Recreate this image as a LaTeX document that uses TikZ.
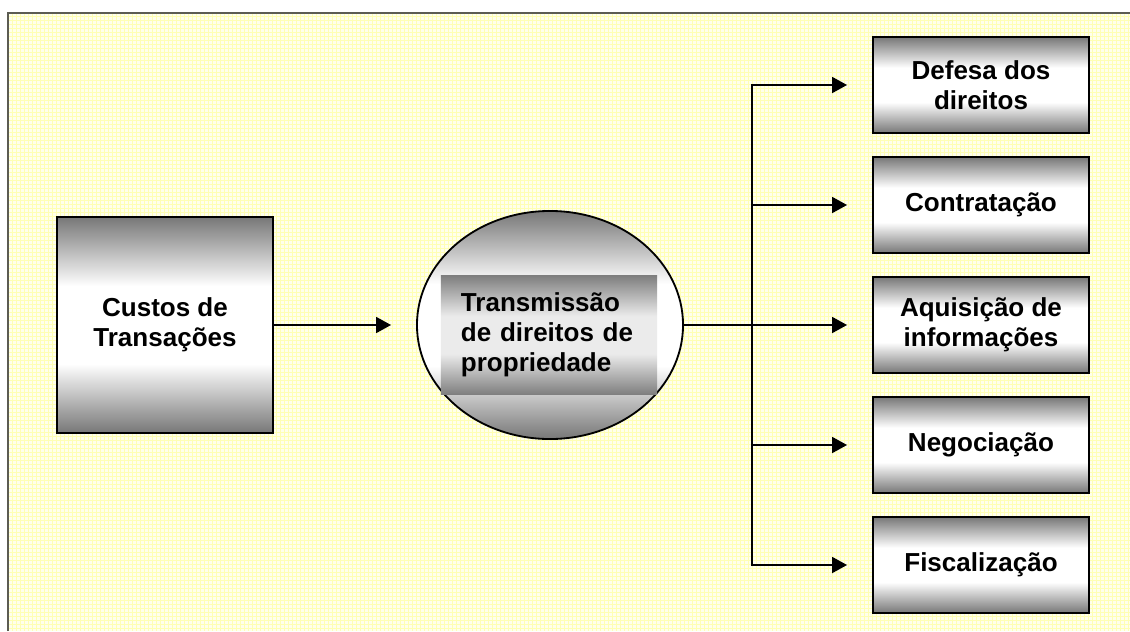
\documentclass[tikz,border=0pt]{standalone}
\usepackage{fontspec}
\setmainfont{Liberation Sans}
\usepackage{tikz}
\usetikzlibrary{arrows.meta,shapes.geometric}
\definecolor{paperfill}{HTML}{FFFFEC}
\definecolor{paperline}{HTML}{FFFFB4}
\definecolor{framegray}{HTML}{5C5C52}
\definecolor{shadegray}{HTML}{777777}
\definecolor{innergray}{HTML}{7E7E7E}
% grey edges, white band in the middle
\pgfdeclareverticalshading{boxshade}{100bp}{color(0bp)=(shadegray); color(25bp)=(shadegray);
  color(41bp)=(white); color(59bp)=(white); color(75bp)=(shadegray); color(100bp)=(shadegray)}
\pgfdeclareverticalshading{innershade}{100bp}{color(0bp)=(innergray); color(25bp)=(innergray);
  color(42bp)=(white!92!black); color(58bp)=(white!92!black); color(75bp)=(innergray); color(100bp)=(innergray)}

\begin{document}
\begin{tikzpicture}[x=0.025cm,y=-0.025cm,
  font=\bfseries\fontsize{18.5}{21.3}\selectfont,
  shadedbox/.style={draw=black,line width=1.3pt,shading=boxshade,align=center,inner sep=0pt},
  costbox/.style={shadedbox,minimum width=5.4cm,minimum height=5.4cm},
  stagebox/.style={shadedbox,minimum width=5.4cm,minimum height=2.4cm},
  roundnode/.style={ellipse,draw=black,line width=1.3pt,shading=boxshade,minimum width=6.65cm,minimum height=5.7cm,inner sep=0pt},
  innerbox/.style={shading=innershade,minimum width=5.4cm,minimum height=2.975cm,text width=4.4cm,align=left,inner xsep=0.5cm,inner ysep=0pt},
  connector/.style={-{Triangle[length=0.375cm,width=0.4cm]},draw=black,line width=1.3pt,shorten >=0.625cm}
]
\path[use as bounding box] (0,0) rectangle (1130,631);

% Paper background and frame
\fill[paperfill] (8,13) rectangle (1130,631);
\draw[paperline,line width=0.5pt,step=0.1cm] (8,13) grid (1130,631);
\draw[framegray,line width=1.4pt] (8,631) -- (8,13) -- (1130,13);

% Source and centre
\node[costbox] (custos) at (165,325) {Custos de\\Transações};
\node[roundnode] (transmissao) at (550,325) {};
\node[innerbox] (direitosprop) at (549,335) {Transmissão\\de direitos de\\propriedade};

% Cost components
\node[stagebox] (defesa) at (981,85) {Defesa dos\\direitos};
\node[stagebox] (contratacao) at (981,205) {Contratação};
\node[stagebox] (aquisicao) at (981,325) {Aquisição de\\informações};
\node[stagebox] (negociacao) at (981,445) {Negociação};
\node[stagebox] (fiscalizacao) at (981,565) {Fiscalização};

% Flow
\coordinate (split) at (752,325);
\draw[connector] (custos.east) -- (transmissao.west);
\draw[connector] (transmissao.east) -- (aquisicao.west);
\draw[connector] (split) |- (defesa.west);
\draw[connector] (split) |- (contratacao.west);
\draw[connector] (split) |- (negociacao.west);
\draw[connector] (split) |- (fiscalizacao.west);

\end{tikzpicture}
\end{document}
